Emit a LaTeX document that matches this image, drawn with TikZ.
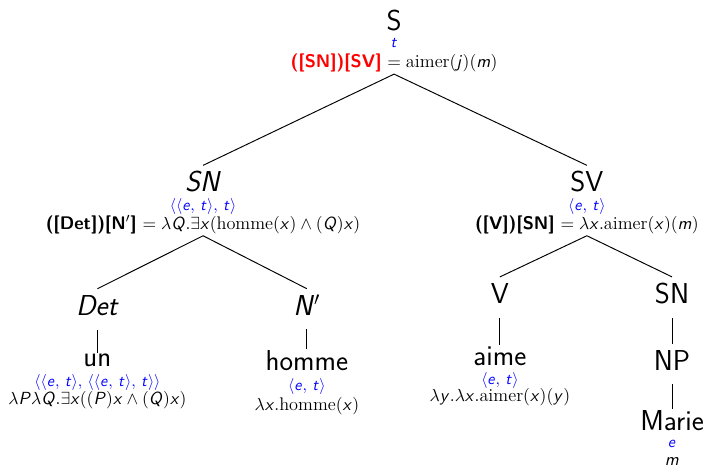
\documentclass[tikz,border=0pt]{standalone}
\usetikzlibrary{positioning}
\renewcommand{\familydefault}{\sfdefault}
% sans italic letters in formulas, greek stays as is
\DeclareSymbolFont{sfletters}{OT1}{cmss}{m}{sl}
\DeclareMathSymbol{e}{\mathalpha}{sfletters}{`e}
\DeclareMathSymbol{t}{\mathalpha}{sfletters}{`t}
\DeclareMathSymbol{j}{\mathalpha}{sfletters}{`j}
\DeclareMathSymbol{m}{\mathalpha}{sfletters}{`m}
\DeclareMathSymbol{x}{\mathalpha}{sfletters}{`x}
\DeclareMathSymbol{y}{\mathalpha}{sfletters}{`y}
\DeclareMathSymbol{P}{\mathalpha}{sfletters}{`P}
\DeclareMathSymbol{Q}{\mathalpha}{sfletters}{`Q}

\begin{document}
\begin{tikzpicture}[
  cat/.style={font=\fontsize{18}{22}\selectfont, anchor=base, inner sep=2.25pt, text height=14pt},
  leaf/.style={font=\fontsize{18}{22}\selectfont, anchor=base, inner sep=0.5pt},
  typ/.style={font=\normalsize, text=blue, inner sep=1pt},
  den/.style={font=\fontsize{11.4}{14}\selectfont, inner sep=1pt},
  branch/.style={semithick},
  stem/.style={semithick, shorten <=6.5pt}]
  \useasboundingbox (0,0) rectangle (15.55,10.26);

  % categories
  \node[cat] (s) at (8.655,9.60) {S};
  \node[cat] (sn) at (4.46,6.05) {\textit{SN}};
  \node[cat] (sv) at (12.89,6.05) {SV};
  \node[cat] (det) at (2.14,3.34) {\textit{Det}};
  \node[cat] (nbar) at (6.74,3.34) {\textit{N}$'$};
  \node[cat] (v) at (10.98,3.60) {V};
  \node[cat] (sn2) at (14.76,3.60) {SN};
  \node[cat] (np) at (14.76,2.13) {NP};

  % words
  \node[leaf] (un) at (2.14,2.20) {un};
  \node[leaf] (homme) at (6.74,2.13) {homme};
  \node[leaf] (aime) at (10.98,2.24) {aime};
  \node[leaf] (marie) at (14.76,0.81) {Marie};

  % types and meanings
  \node[typ, below=11pt of s.base, anchor=base] (s-t) {$t$};
  \node[den, below=12.5pt of s-t.base, anchor=base] (s-f)
    {\textcolor{red}{\textbf{([SN])[SV]}} $= \textrm{aimer}(j)(m)$};
  \node[typ, below=12pt of sn.base, anchor=base] (sn-t) {$\langle\langle e,\,t\rangle,\,t\rangle$};
  \node[den, below=11.5pt of sn-t.base, anchor=base] (sn-f)
    {\textbf{([Det])[N$'$]} $= \lambda Q.\exists x(\textrm{homme}(x) \land (Q)x)$};
  \node[typ, below=12pt of sv.base, anchor=base] (sv-t) {$\langle e,\,t\rangle$};
  \node[den, below=11.5pt of sv-t.base, anchor=base] (sv-f)
    {\textbf{([V])[SN]} $= \lambda x.\textrm{aimer}(x)(m)$};
  \node[typ, below=12pt of un.base, anchor=base] (un-t)
    {$\langle\langle e,\,t\rangle,\,\langle\langle e,\,t\rangle,\,t\rangle\rangle$};
  \node[den, below=11.5pt of un-t.base, anchor=base] (un-f)
    {$\lambda P\lambda Q.\exists x((P)x \land (Q)x)$};
  \node[typ, below=13pt of homme.base, anchor=base] (homme-t) {$\langle e,\,t\rangle$};
  \node[den, below=12pt of homme-t.base, anchor=base] (homme-f) {$\lambda x.\textrm{homme}(x)$};
  \node[typ, below=12pt of aime.base, anchor=base] (aime-t) {$\langle e,\,t\rangle$};
  \node[den, below=10.5pt of aime-t.base, anchor=base] (aime-f) {$\lambda y.\lambda x.\textrm{aimer}(x)(y)$};
  \node[typ, below=11pt of marie.base, anchor=base] (marie-t) {$e$};
  \node[den, below=11pt of marie-t.base, anchor=base] (marie-f) {$m$};

  % branches
  \draw[branch] (sn.north) -- (s-f.south) -- (sv.north);
  \draw[branch] (det.north) -- (sn-f.south) -- (nbar.north);
  \draw[branch] (v.north) -- (sv-f.south) -- (sn2.north);
  \draw[stem] (det.south) -- (un.north);
  \draw[stem] (nbar.south) -- (homme.north);
  \draw[stem] (v.south) -- (aime.north);
  \draw[stem] (sn2.south) -- (np.north);
  \draw[stem] (np.south) -- (marie.north);
\end{tikzpicture}
\end{document}
